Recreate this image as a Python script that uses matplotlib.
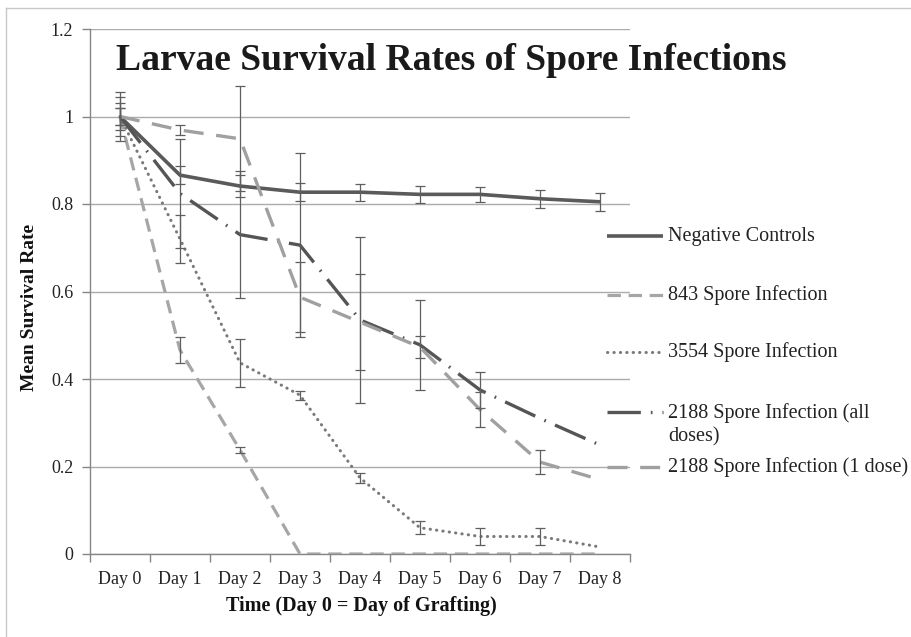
import numpy as np
import matplotlib
matplotlib.use("Agg")
import matplotlib.pyplot as plt
from matplotlib.lines import Line2D

plt.rcParams['font.family'] = ['Liberation Serif', 'DejaVu Serif']

# categories
days = ['Day 0', 'Day 1', 'Day 2', 'Day 3', 'Day 4', 'Day 5', 'Day 6', 'Day 7', 'Day 8']

# series values (mean survival) and error bar half-widths
neg_controls = [1.0, 0.866, 0.841, 0.827, 0.827, 0.822, 0.822, 0.812, 0.805]
neg_controls_err = [0.02, 0.02, 0.025, 0.02, 0.019, 0.02, 0.018, 0.02, 0.02]

spore_843 = [1.0, 0.466, 0.238, 0.0, 0.0, 0.0, 0.0, 0.0, 0.0]
spore_843_err = [0.02, 0.03, 0.006, 0, 0, 0, 0, 0, 0]

spore_3554 = [1.0, 0.72, 0.437, 0.363, 0.174, 0.06, 0.04, 0.04, 0.016]
spore_3554_err = [0.045, 0.055, 0.055, 0.01, 0.012, 0.015, 0.02, 0.02, 0]

spore_2188_all = [1.0, 0.824, 0.73, 0.706, 0.535, 0.478, 0.375, 0.31, 0.249]
spore_2188_all_err = [0.055, 0.125, 0.145, 0.21, 0.19, 0.103, 0.042, 0, 0]

spore_2188_one = [1.0, 0.969, 0.949, 0.587, 0.53, 0.473, 0.33, 0.21, 0.17]
spore_2188_one_err = [0.03, 0.012, 0.12, 0.08, 0.11, 0.025, 0.04, 0.027, 0]

labels = ['Negative Controls', '843 Spore Infection', '3554 Spore Infection',
          '2188 Spore Infection (all\ndoses)', '2188 Spore Infection (1 dose)']

series = [neg_controls, spore_843, spore_3554, spore_2188_all, spore_2188_one]
errors = [neg_controls_err, spore_843_err, spore_3554_err, spore_2188_all_err, spore_2188_one_err]

# line styles
styles = [
    dict(color='#5a5a5a', lw=2.6, ls='-', solid_capstyle='butt'),
    dict(color='#a6a6a6', lw=2.3, ls=(0, (4.2, 2.4)), dash_capstyle='butt'),
    dict(color='#7a7a7a', lw=2.2, ls=(0, (0.1, 2.0)), dash_capstyle='round'),
    dict(color='#555555', lw=2.4, ls=(0, (10, 3, 0.5, 3)), dash_capstyle='butt'),
    dict(color='#a0a0a0', lw=2.4, ls=(0, (6, 3.8)), dash_capstyle='butt'),
]

fig = plt.figure(figsize=(9.12, 6.37), dpi=100)
W, H = 912, 637
ax = fig.add_axes([90 / W, 1 - 554 / H, 540 / W, 525 / H])

x = np.arange(len(days))
for vals, errs, st in zip(series, errors, styles):
    ax.plot(x, vals, zorder=3, **st)
    errs = np.asarray(errs, dtype=float)
    m = errs > 0
    ax.errorbar(x[m], np.asarray(vals)[m], yerr=errs[m], fmt='none',
                ecolor='#5f5f5f', elinewidth=0.9, capsize=3.5, capthick=0.9, zorder=4)

ax.set_xlim(-0.5, 8.5)
ax.set_ylim(0, 1.2)
yt = [0, 0.2, 0.4, 0.6, 0.8, 1.0, 1.2]
ax.set_yticks(yt)
ax.set_yticklabels(['0', '0.2', '0.4', '0.6', '0.8', '1', '1.2'], fontsize=13, color='#222222')
ax.yaxis.grid(True, color='#ababab', lw=1.0)
ax.set_axisbelow(True)
ax.set_xticks(x)
ax.set_xticklabels(days, fontsize=13, color='#222222')
ax.set_xticks(np.arange(-0.5, 9, 1), minor=True)
ax.tick_params(axis='x', which='major', length=0, pad=12)
ax.tick_params(axis='x', which='minor', length=6, color='#868686', width=1)
ax.tick_params(axis='y', length=6, color='#868686', width=1, pad=6)
for s in ['top', 'right']:
    ax.spines[s].set_visible(False)
for s in ['left', 'bottom']:
    ax.spines[s].set_color('#868686')
    ax.spines[s].set_linewidth(1)

# axis titles
fig.text(361 / W, 1 - 606 / H, 'Time (Day 0 = Day of Grafting)', ha='center', va='center',
         fontsize=14.5, fontweight='bold', color='#111111')
fig.text(30 / W, 1 - 307 / H, 'Mean Survival Rate', ha='center', va='center',
         rotation=90, fontsize=14, fontweight='bold', color='#111111')

# chart title, sized to the reference width
title = fig.text(451 / W, 1 - 70 / H, 'Larvae Survival Rates of Spore Infections',
                 ha='center', va='baseline', fontsize=28, fontweight='bold', color='#1a1a1a')
r = fig.canvas.get_renderer()
w = title.get_window_extent(r).width
title.set_fontsize(28 * 672 / w)

# legend drawn at the right
leg_y = [236, 295, 352, 412, 467]
text_y = [236, 295, 352, 425, 467]
for lab, st, ly, ty in zip(labels, styles, leg_y, text_y):
    ln = Line2D([607 / W, 663 / W], [1 - ly / H, 1 - ly / H], transform=fig.transFigure, **st)
    fig.add_artist(ln)
    fig.text(668 / W, 1 - ty / H, lab, ha='left', va='center', fontsize=14.5,
             linespacing=1.3, color='#222222')

# outer chart border
fig.add_artist(Line2D([6 / W, 6 / W], [0, 1 - 8 / H], transform=fig.transFigure, color='#c8c8c8', lw=1))
fig.add_artist(Line2D([6 / W, 1], [1 - 8 / H, 1 - 8 / H], transform=fig.transFigure, color='#c8c8c8', lw=1))

fig.savefig('out.png', dpi=100)
